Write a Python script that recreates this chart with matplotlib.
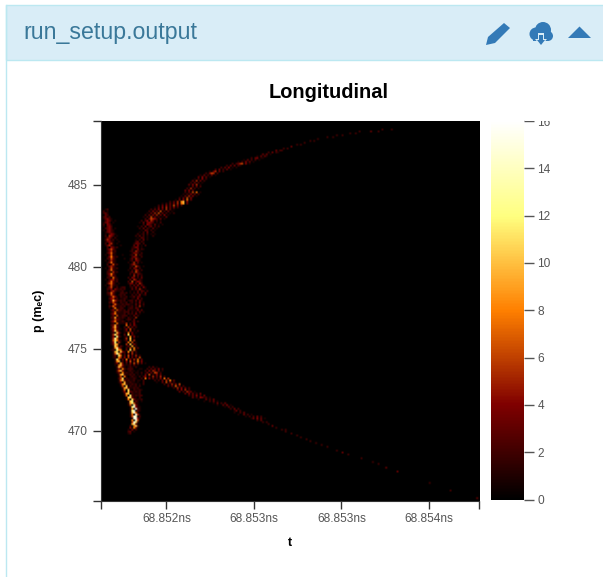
import numpy as np
import matplotlib
matplotlib.use("Agg")
import matplotlib.pyplot as plt
from matplotlib.patches import Polygon, Rectangle, Circle

plt.rcParams['font.family'] = ['Liberation Sans', 'DejaVu Sans']

W, H = 603, 577
T_RANGE = (68.851623, 68.853786)
P_RANGE = (465.7, 488.9)
x_ticks = [68.8520, 68.8525, 68.8530, 68.8535]
x_labels = ['68.852ns', '68.853ns', '68.853ns', '68.854ns']
y_ticks = [470, 475, 480, 485]
cbar_ticks = [0, 2, 4, 6, 8, 10, 12, 14, 16]
VMAX = 16
N_BINS = 200
FIRST_ROW = 4

# Heat-map counts, one string per p row from the top.
# "col:digits" gives hex counts in consecutive t bins from that column; '.' is zero.
row_cells = [
"148:2 153:2","136:2 142:3 146:2","131:2 134:2","124:2 127:2","119:2 122:2","114:2","110:2 112:2","107:2",
"103:2 105:2","100:3",
"96:2.2","92:3.2 95:2","88:2.3.2 93:1","85:3.3 89:1","82:1.3.3 87:1","79:2.34.1 85:1","75:1.3.2.2 83:1",
"72:1.2.4.3.1","69:2.2356.4.1","66:2.3.3.21","63:2.3.4.1.1","60:2.3.2.3.1","57:1.35.3.2","55:2.465.2",
"52:1.3.2.3.1","51:3.4.3.1","49:1.2.4.2","48:3.5.3.2","47:2.3.2.1","46:3.4.5.1","46:1.3.3.2","45:2.5.2.1",
"44:3.4.3","44:2.3.6.7.1","43:1.2.4.3.2","42:1.3.5.4.1","41:2.3.6.4","39:1.3.4.7.3","36:2.3.5.8a.4",
"32:1.2.3.4.5.79.3","30:2.3.4.3.6.4.2","28:1.3.4.5.3.4.2","2:12 26:2.3.4.3.5.3.1","1:2.1 25:2.4.3.6.2.3.1",
"1:231 24:1.3.5.6.3.2.1.2","2:32 23:2.3.4.5.3.4.1","1:2312 22:1.2.6.3.2.1.3",
"1:13421 23:2.36542.3.1","2:2431.1 21:2.24.53.2.1","1:1342.1 20:1.3.3432.1.2","1:2.431 22:2.432.3.1 32:1",
"1:1.342 19:1.2.3.23.2.2","2:2342.1 20:2.3.21.3.1","1:1.3421 21:1.32.2.1","2:13421 20:1.2.3..2",
"2:1.2431 19:2.12.2.1.1","2:2.542.1 18:2.3.2.1..2","2:1342.2 19:1.32.1","2:25312 8:1 18:1.2.3.1",
"2:13421 9:1 18:23.21","2:2.451.1 17:1332.2","2:13521 10:1 17:3.4.1.2","3:2.4312 16:1243.1","3:24631 16:21.4.21",
"3:13512 15:12.521","3:24721 16:1432.2","2:1.2611 11:1 15:12.6.21","3:148312 16:2431.2","3:22631 12:1 15:13.521",
"2:1.2521 15:12.431","3:13721 14:1.15.3.1","3:2.2612 15:13521","3:13531 15:12.631.1","2:1.26212 15:2.43.2",
"3:13721 14:1.2.53.2","3:22.512 15:13.621","3:24831 15:2.4.321","3:13622 15:1.5.3.2","3:22.721 14:2.43.2.3",
"2:1.24512 15:3.53.21","3:137312 14:2.6.2431","3:25731.1 9:1 14:134.3.52","2:1.2621 8:1 15:2.3.4.31",
"3:1361.2 10:122 15:12.4.2.41","3:224.42 9:1212 16:3.3.51.1","3:1.352 8:1112 15:1.1.3.32.2",
"3:23731 10:2212 15:1.2.3.2.3","3:12631 9:1212 16:2.2.4.12","4:13741 10:2112 15:113.32","4:24512 8:2.11 12:21 16:11.4.2",
"4:13952 9:1212 14:12 16:2.3.31","4:22631 10:2112 15:12.2.4.1","4:1.3721 8:2112 12:1221 16:1.3.3.2","4:22731 9:1212 14:11 16:2.2.5.1",
"4:1.2821 8:1 10:22 14:12 16:2.32","5:24.621 10:212 14:21 16:11.4.3","5:12712 9:2112 13:22 16:2.2.3.1","5:24821 10:112 14:212.4.1",
"5:13.61 9:112 12:22 15:1.3.2","5:22912 10:121 14:211.5","5:12631 9:211 13:122 17:3","5:24821 10:121 14:1.13.2",
"5:12.71 10:111 13:5.2.4","5:23921 13:7.3.41","5:15a31 12:2.5.3.2","5:23821 10:1 12:14.6.2","5:14b51 12:13.5.1.2",
"5:12.a41 12:1.7.4.1","5:15c62 12:3.b.31","5:14.c31 12:12.8.4.1","5:15d71 12:15.a.2","5:16b821 12:13.9.5",
"5:14c.51 13:17.6.1","5:13a91 13:5.a.41","6:1b7.31 13:13.9.2","6:18d52 13:2.6.8.3","5:12.c87 13:3.b.71",
"6:19b.a4 12:2.8.5.2","6:16d94.2.3.5.2","6:13.b7 12:3.6.3.5.2","6:12.85.4.5.3.3.6","7:1b6.3.7.4.5.7.3",
"7:18a.2.4.6.3.8.4","7:14.93.2.4.6.5.3.1","7:1.7a41 13:112.3.1","8:2a621 14:121.2 25:2.3.1",
"8:14.821 13:1222 20:11 24:2.3.3.4.2","8:27a31 14:1211 19:1 23:2.4.53.3.1","8:13.81 13:2112 18:11 21:2.1 24:3.3.65.2",
"9:29a21 14:1212 19:1 21:1.3.6.2.4.3","9:16.71 15:1211 20:2.2 23:4.2.5.3.5.2","9:25b.21 15:1121 21:2.7.4.3.2.4.7.5",
"9:17a31 14:2112 19:11.2 28:2.2.3.5.8.3","9:14.91 14:1211 19:1 22:2 29:1 32:3.6.4.2",
"10:28a21 15:1212 20:1.2 33:2.2.5.4.6","10:16.a.1 15:2112 20:2 35:3.3.7.3.2",
"11:29a31 16:1212 38:2.5.4.3.2","11:17.b1 17:2112 21:1 40:3.4.5.2","11:14.a32 17:1212 41:3.2.5.3.1 46:2",
"12:29a.21 18:112 44:3.4.3.2.3","12:17.b21 18:212 21:2 46:2.3.4.3.1 52:2.3","13:1ab31 18:1 20:2 48:3.2.4.1 53:3.2.1",
"13:18.b41 19:112 51:1 55:3.2.3","14:1ac.31 21:1 54:1 57:2.3.1","14:19c612 19:1 59:1.3.2 63:2.3",
"14:16.d41 19:1 61:1 64:3.4.1","15:1cf41 20:1 65:1.3.2","15:18.f61 19:2 68:2.3.2","15:1cf.31 70:1 71:3.2",
"15:1af71 19:1 70:1 73:2.3","15:17.f51 72:1 75:3.2.1","15:16fe.2 76:1 78:2.2.3.2","16:1ff41 79:1 80:3.4.3.1",
"16:8.f6 82:2.3","16:5fb2 85:2.2","16:9d3 88:2","15:2.7b2 90:3","15:4.83 92:2","14:1.4.2 95:2.2","14:23.1 97:2",
"14:12 100:2","103:2","105:2","108:2",
"110:2","113:2","116:2","119:2","","124:2","127:3","130:2","","137:2","","143:2","146:2","","150:3","","156:3",
"","","","","","173:2","","","","184:2","","","","198:3",
]

grid = np.zeros((N_BINS, N_BINS))
for i, row in enumerate(row_cells):
    for chunk in row.split():
        col, digits = chunk.split(':')
        for j, d in enumerate(digits):
            if d != '.':
                grid[FIRST_ROW + i, int(col) + j] = int(d, 16)

fig = plt.figure(figsize=(W / 100, H / 100), dpi=100, facecolor='white')

def box(l, t, r, b):
    return [l / W, 1 - b / H, (r - l) / W, (b - t) / H]

# Panel chrome, in pixel coordinates
bg = fig.add_axes([0, 0, 1, 1], zorder=-1)
bg.set_xlim(0, W); bg.set_ylim(H, 0); bg.axis('off')
bg.add_patch(Rectangle((6, 5), 700, 55, fc='#d9edf7', ec='#bce8f1', lw=1))
bg.plot([6, 6], [5, H], color='#bce8f1', lw=1)
bg.text(23, 32.5, 'run_setup.output', color='#3a7899', fontsize=16.7, va='center', ha='left')
blue = '#337ab7'
bg.add_patch(Polygon([(486, 45), (488, 37), (504, 23), (510, 28), (495, 43)], fc=blue, ec='none'))
bg.add_patch(Polygon([(503, 21), (505, 20), (511, 26), (510, 27)], fc='#d9edf7', ec='none'))
for cx, cy, r in [(536, 34, 6.5), (543, 30, 8), (548, 36, 5)]:
    bg.add_patch(Circle((cx, cy), r, fc=blue, ec='none'))
bg.add_patch(Rectangle((533, 35), 15, 6, fc=blue, ec='none'))
bg.add_patch(Polygon([(538, 33), (544, 33), (544, 39), (547, 39), (541, 46), (535, 39), (538, 39)],
                     fc='#d9edf7', ec='none'))
bg.add_patch(Polygon([(539, 35), (543, 35), (543, 40), (545, 40), (541, 45), (537, 40), (539, 40)],
                     fc=blue, ec='none'))
bg.add_patch(Polygon([(568, 38), (579.5, 26.5), (591, 38)], fc=blue, ec='none'))

# Heat map
ax = fig.add_axes(box(100.5, 121, 479, 501))
im = ax.imshow(grid, cmap='afmhot', vmin=0, vmax=VMAX, origin='upper', aspect='auto',
               extent=[T_RANGE[0], T_RANGE[1], P_RANGE[0], P_RANGE[1]], interpolation='bilinear')
ax.set_xticks(list(T_RANGE) + x_ticks)
ax.set_xticklabels(['', ''] + x_labels)
ax.set_yticks(list(P_RANGE) + y_ticks)
ax.set_yticklabels(['', ''] + [str(v) for v in y_ticks])
ax.set_xlim(*T_RANGE); ax.set_ylim(*P_RANGE)
ax.tick_params(length=6, width=1, color='#333333', labelcolor='#555555', labelsize=8.6, pad=3)
for s in ('top', 'right'):
    ax.spines[s].set_visible(False)
for s in ('left', 'bottom'):
    ax.spines[s].set_color('#333333')
ax.set_xlabel('t', fontweight='bold', fontsize=9, labelpad=8)
ax.set_ylabel('p (mₑc)', fontweight='bold', fontsize=9, labelpad=17)
fig.text(328.5 / W, 1 - 92 / H, 'Longitudinal', fontweight='bold', fontsize=14.4, ha='center', va='center', color='black')

# Colour bar
cax = fig.add_axes(box(491, 121, 523.5, 499.5))
cb = fig.colorbar(im, cax=cax, ticks=cbar_ticks)
cb.outline.set_visible(False)
cax.tick_params(length=7, width=1, color='#555555', labelcolor='#555555', labelsize=8.6, pad=3)

# The page clips the top of the colour-bar labels
cover = fig.add_axes([0, 0, 1, 1], zorder=5)
cover.set_xlim(0, W); cover.set_ylim(H, 0); cover.axis('off')
cover.add_patch(Rectangle((525, 105), 40, 15.5, fc='white', ec='none'))

fig.savefig('out.png', dpi=100)
